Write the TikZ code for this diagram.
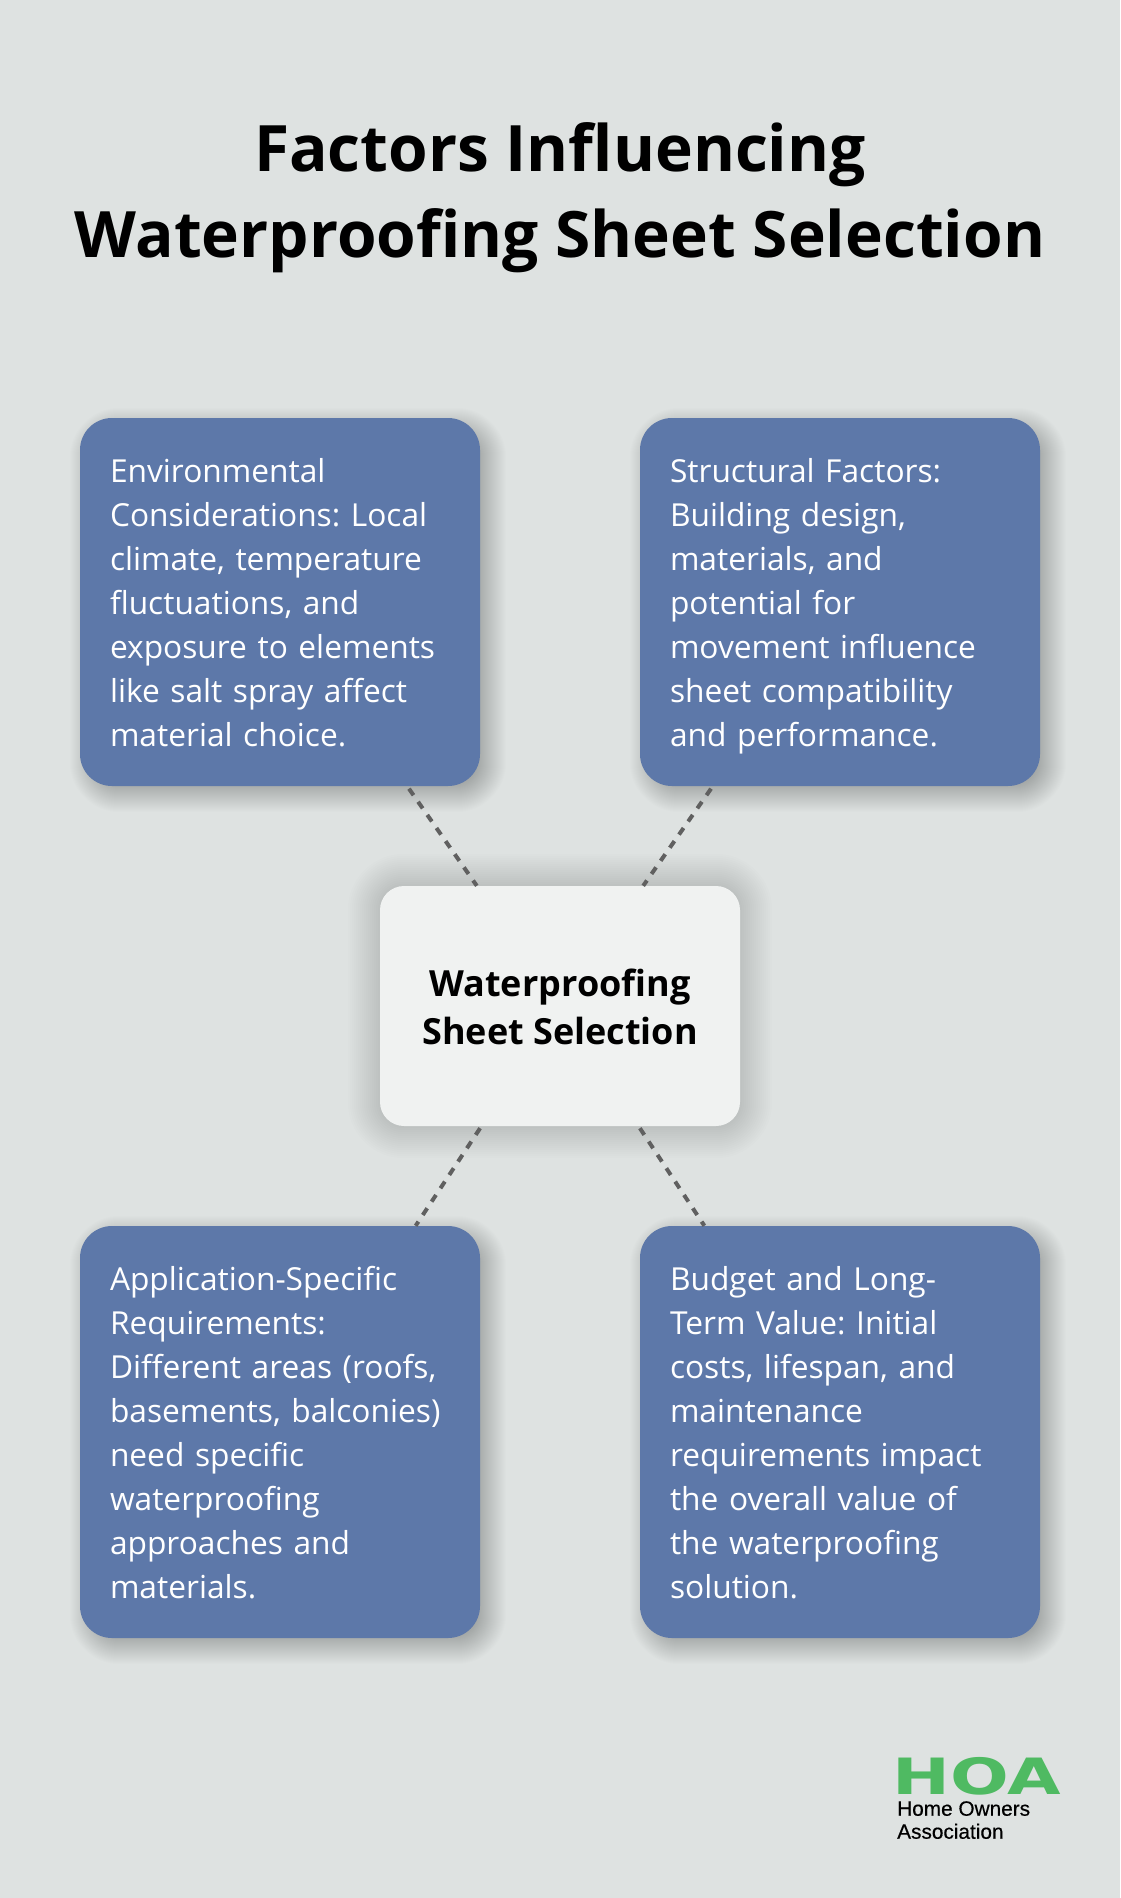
\documentclass[tikz,border=0pt]{standalone}
\usepackage{fontspec}
\setmainfont{Open Sans}
\newfontfamily\logofont[FakeBold=0.45]{Liberation Sans}
\newfontfamily\logoheavy{DejaVu Sans}
\usetikzlibrary{backgrounds,calc}
\definecolor{pagebg}{HTML}{DEE2E1}
\definecolor{cardblue}{HTML}{5D78A9}
\definecolor{centrefill}{HTML}{F0F2F1}
\definecolor{linkgrey}{HTML}{606060}
\definecolor{logogreen}{HTML}{4FBA62}
\newcommand{\topstrut}[1]{\rule{0pt}{#1pt}}
\newcommand{\botstrut}[1]{\rule[-#1pt]{0pt}{#1pt}}
\tikzset{
  x=1pt,y=-1pt,
  card/.style={fill=cardblue,text=white,rounded corners=32pt,minimum width=400pt,
    text width=340pt,inner xsep=30pt,inner ysep=0pt,align=left,
    font=\frenchspacing\fontsize{31.7}{44}\selectfont},
  hub/.style={fill=centrefill,text=black,rounded corners=24pt,minimum width=360pt,minimum height=240pt,
    align=center,inner sep=0pt,
    font=\frenchspacing\fontsize{36}{48}\selectfont\bfseries},
  linktop/.style={draw=linkgrey,line width=4pt,dash pattern=on 8pt off 8pt,dash phase=13pt},
  linkbot/.style={draw=linkgrey,line width=4pt,dash pattern=on 8pt off 8pt,dash phase=3pt},
  headline/.style={font=\fontsize{64}{86}\selectfont\bfseries,text=black,align=center,inner sep=0pt},
}
% soft shadow: node, dx, dy, half-spread, steps, layer opacity, corner radius
\newcommand{\softshadow}[7]{%
  \begin{scope}[on background layer]
  \foreach \i in {1,...,#5}{%
    \pgfmathsetmacro{\sprd}{#4*(2*\i/#5-1)}
    \pgfmathsetmacro{\rad}{max(#7+\sprd,1)}
    \fill[black,opacity=#6,rounded corners=\rad pt]
      ($(#1.north west)+(#2-\sprd,#3-\sprd)$) rectangle ($(#1.south east)+(#2+\sprd,#3+\sprd)$);
  }
  \end{scope}}
\begin{document}
\begin{tikzpicture}
\useasboundingbox (0,0) rectangle (1120,1898);
\begin{scope}[on background layer]
\fill[pagebg] (0,0) rectangle (1120,1898);
\end{scope}
\node[headline] (title) at (560,197) {\topstrut{50}Factors Influencing\\Waterproofing Sheet Selection\botstrut{14}};
\node[hub] (hub) at (560,1006) {\topstrut{36.4}Waterproofing\\Sheet Selection\botstrut{8}};
\node[card,minimum height=368pt] (env) at (280,602) {\topstrut{32.4}Environmental\\Considerations: Local\\climate, temperature\\fluctuations, and\\exposure to elements\\like salt spray affect\\material choice.\botstrut{6.6}};
\node[card,minimum height=368pt] (str) at (840,602) {\topstrut{32.4}Structural Factors:\\Building design,\\materials, and\\potential for\\movement influence\\sheet compatibility\\and performance.\botstrut{6.6}};
\node[card,minimum height=412pt] (app) at (280,1432) {\topstrut{32.4}Application-Specific\\Requirements:\\Different areas (roofs,\\basements, balconies)\\need specific\\waterproofing\\approaches and\\materials.\botstrut{6.6}};
\node[card,minimum height=412pt] (bud) at (840,1432) {\topstrut{32.4}Budget and Long-\\Term Value: Initial\\costs, lifespan, and\\maintenance\\requirements impact\\the overall value of\\the waterproofing\\solution.\botstrut{6.6}};
\softshadow{hub}{0}{0}{32}{32}{0.0085}{24}
\softshadow{env}{8}{8}{18}{36}{0.0095}{32}
\softshadow{str}{8}{8}{18}{36}{0.0095}{32}
\softshadow{app}{8}{8}{18}{36}{0.0095}{32}
\softshadow{bud}{8}{8}{18}{36}{0.0095}{32}
\draw[linktop] (env) -- (hub);
\draw[linktop] (str) -- (hub);
\draw[linkbot] (app) -- (hub);
\draw[linkbot] (bud) -- (hub);
\node[inner sep=0pt,anchor=north west,text=logogreen,xscale=1.383,font=\logoheavy\bfseries\fontsize{50}{50}\selectfont] (logomark) at (892,1757) {HOA};
\node[inner sep=0pt,anchor=north west,align=left,text=black,font=\logofont\fontsize{20.8}{23}\selectfont] (logotext) at (897,1801) {Home Owners\\Association};
\end{tikzpicture}
\end{document}
